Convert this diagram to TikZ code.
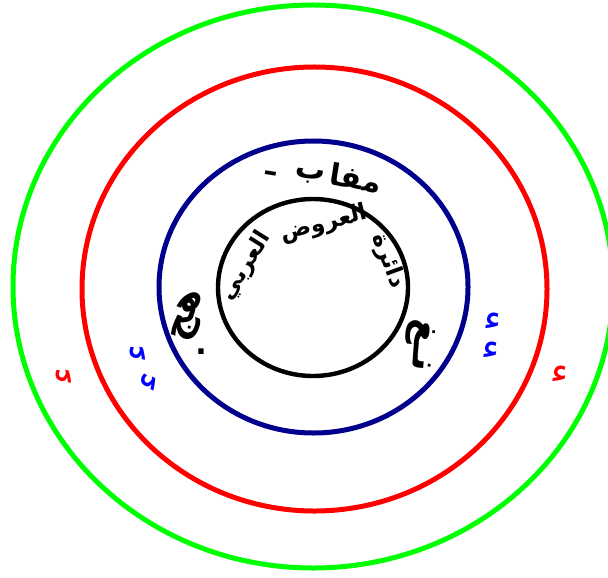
\documentclass[tikz,border=0pt]{standalone}
\usepackage{fontspec}
\newfontfamily\arabicfont[Script=Arabic]{DejaVu Sans}
\TeXXeTstate=1
\definecolor{ringgreen}{RGB}{0,255,0}
\definecolor{ringred}{RGB}{255,0,0}
\definecolor{ringnavy}{RGB}{0,0,140}
\definecolor{markblue}{RGB}{0,0,255}
\begin{document}
\begin{tikzpicture}[x=0.5pt,y=-0.5pt,
  ring/.style={line width=2.5pt},
  ar/.style={font=\arabicfont\bfseries\fontsize{15pt}{15pt}\selectfont, inner sep=0pt},
  big/.style={font=\arabicfont\bfseries\fontsize{19pt}{19pt}\selectfont, inner sep=0pt},
  arc/.style={font=\arabicfont\bfseries\fontsize{11.5pt}{11.5pt}\selectfont, inner sep=0pt},
  mk/.style={font=\arabicfont\fontsize{19pt}{19pt}\selectfont, inner sep=0pt}]
\useasboundingbox (0,0) rectangle (608,577);
\draw[ring, ringgreen] (313,286.5) ellipse [x radius=150pt, y radius=140.75pt];
\draw[ring, ringred] (314.5,289) ellipse [x radius=116.25pt, y radius=111pt];
\draw[ring, ringnavy] (313.5,287) ellipse [x radius=77.25pt, y radius=73pt];
\draw[line width=2.2pt, black] (313,287.5) ellipse [x radius=47.5pt, y radius=44.25pt];
% inner curved title
\node[arc, rotate=-70] (w1) at (388,261) {\beginR دائرة\endR};
\node[arc, rotate=14] (w2) at (324,224) {\beginR العروض\endR};
\node[arc, rotate=58] (w3) at (246,266) {\beginR العربي\endR};
% top label
\node[ar, rotate=-9] (t1) at (271,173) {ـ};
\node[ar, rotate=-9] (t2) at (310,176) {\beginR ب\endR};
\node[ar, rotate=-9] (t3) at (356,178) {\beginR مفا\endR};
% left cluster
\node[big, rotate=70] (left) at (189,316) {\beginR هج\endR};
\node[ar] (ldot) at (201,352) {.};
% right cluster
\node[big, rotate=-95] (right) at (420,345) {\beginR نـغ\endR};
% small marks
\node[mk, text=markblue, rotate=-10] (b1) at (493,322) {\beginR ء\endR};
\node[mk, text=markblue, rotate=-10] (b2) at (491,351) {\beginR ء\endR};
\node[mk, text=markblue, rotate=80] (b3) at (139,353) {\beginR ء\endR};
\node[mk, text=markblue, rotate=60] (b4) at (150,382) {\beginR ء\endR};
\node[mk, text=ringred, rotate=80] (r1) at (65,376) {\beginR ء\endR};
\node[mk, text=ringred, rotate=-10] (r2) at (560,375) {\beginR ء\endR};
\end{tikzpicture}
\end{document}
